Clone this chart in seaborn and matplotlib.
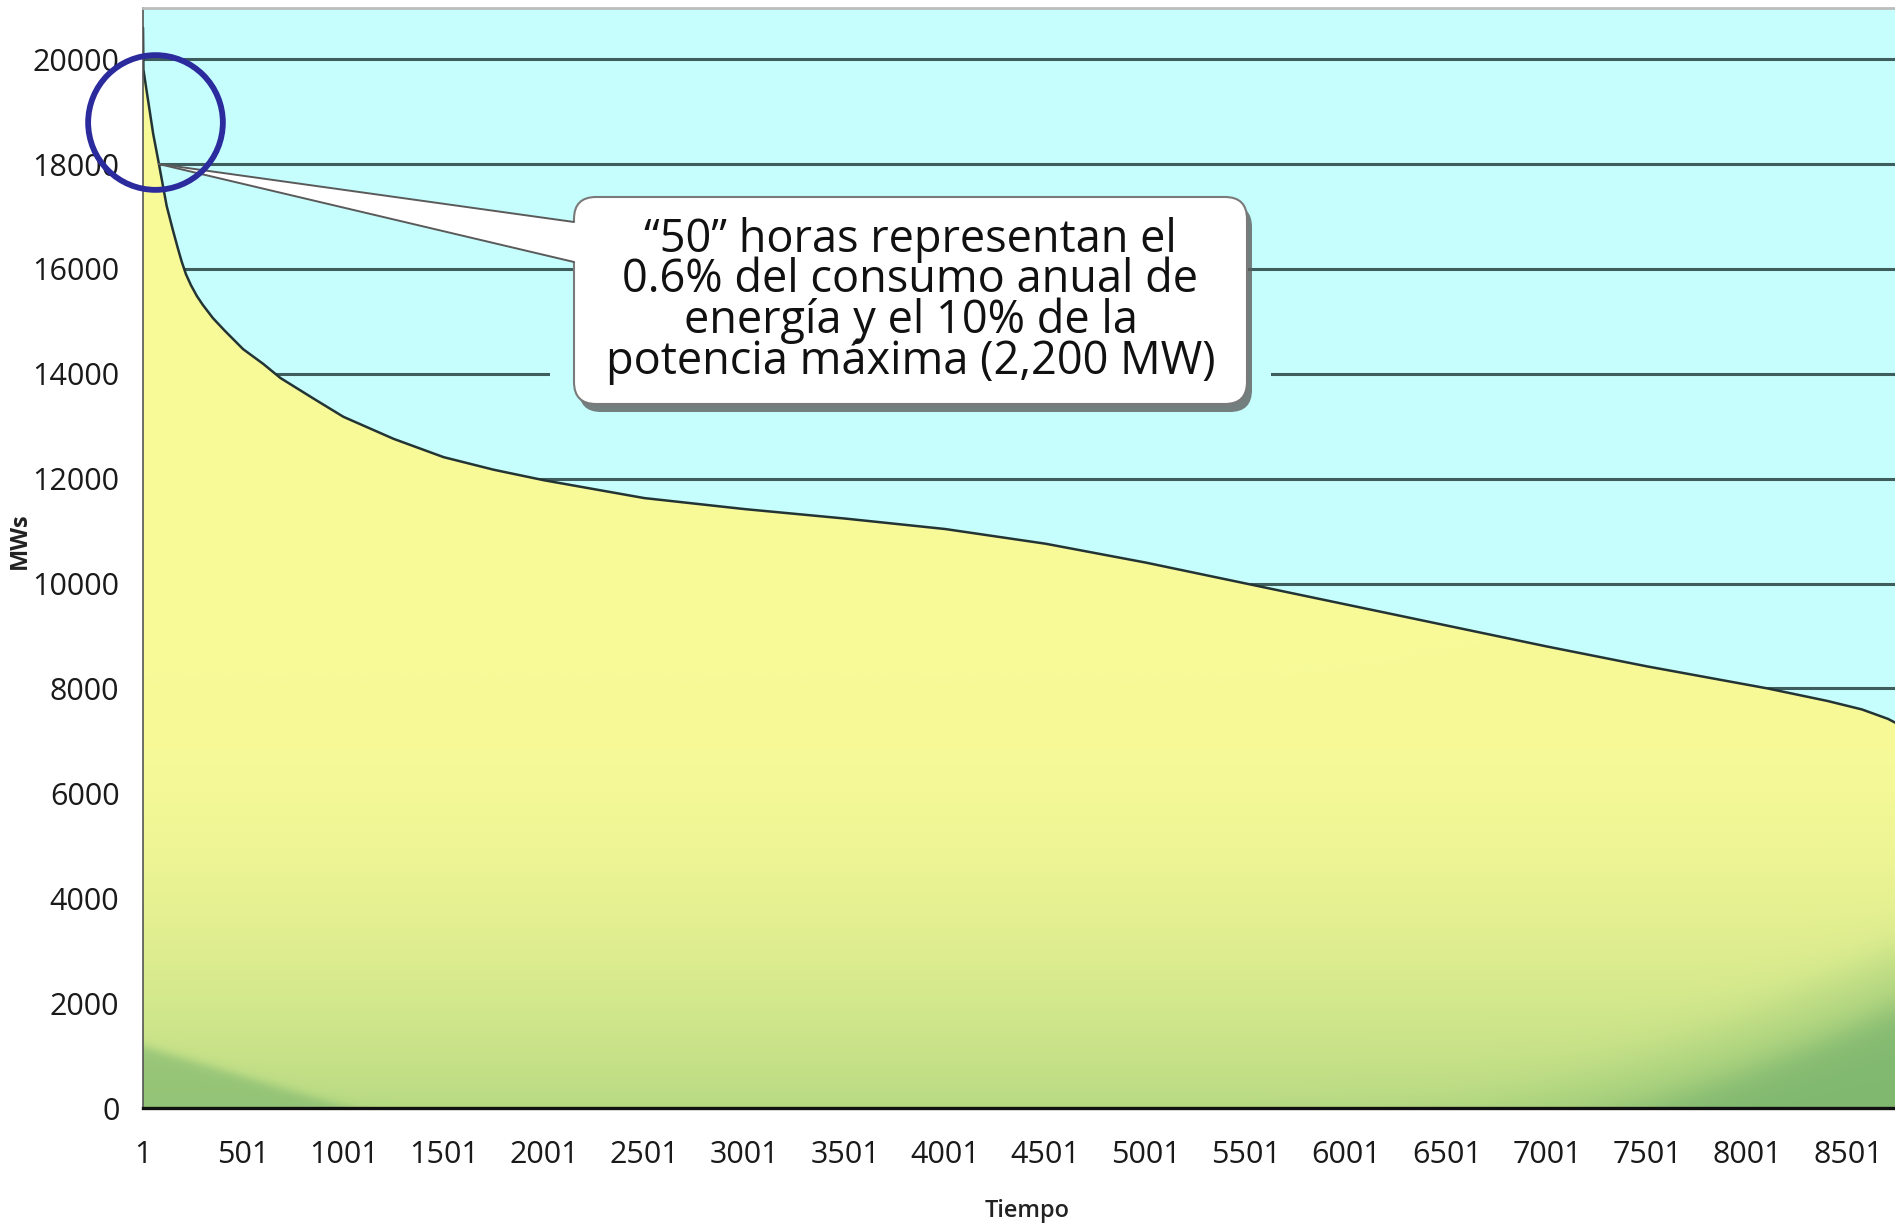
import numpy as np
import matplotlib
matplotlib.use("Agg")
import matplotlib.pyplot as plt
import matplotlib.transforms as mtransforms
from matplotlib.patches import FancyBboxPatch, Polygon, Rectangle
import seaborn as sns

# load duration curve (hour rank vs. demand in MW)
hours = [1, 3, 52, 77, 119, 150, 175, 193, 215, 240, 270, 300, 350, 409, 500,
         600, 686, 850, 1000, 1250, 1500, 1750, 2000, 2500, 3000, 3500, 4000,
         4500, 5000, 5500, 6000, 6500, 7000, 7500, 8100, 8400, 8570, 8700, 8760]
mw = [20600, 19800, 18570, 18070, 17200, 16740, 16390, 16150, 15900, 15690,
      15480, 15310, 15060, 14820, 14470, 14190, 13920, 13530, 13180, 12760,
      12410, 12170, 11970, 11630, 11420, 11240, 11040, 10760, 10400, 10000,
      9600, 9200, 8800, 8420, 8000, 7760, 7600, 7420, 7300]

x_ticks = [1, 501, 1001, 1501, 2001, 2501, 3001, 3501, 4001, 4501, 5001,
           5501, 6001, 6501, 7001, 7501, 8001, 8501]
y_ticks = [0, 2000, 4000, 6000, 8000, 10000, 12000, 14000, 16000, 18000, 20000]

# highlighted peak hours and the point the callout refers to
circle_hour, circle_mw = [61], [18800]
tip_hour, tip_mw = 80, 18000

callout = ("\u201c50\u201d horas representan el\n"
           "0.6% del consumo anual de\n"
           "energ\u00eda y el 10% de la\n"
           "potencia m\u00e1xima (2,200 MW)").replace("\u00ea", "\u00ed")

W, H = 1895, 1226
SKY = "#c6fdfd"
GRID = "#3f5d5d"

sns.set_theme(style="white")
plt.rcParams["font.family"] = ["Open Sans", "DejaVu Sans"]

fig = plt.figure(figsize=(W / 100, H / 100), dpi=100)
ax = fig.add_axes([143 / W, 118 / H, (W - 143) / W, 1100 / H])
ax.set_facecolor(SKY)
ax.set_xlim(1, 8735)
ax.set_ylim(0, 20975)

ax.set_axisbelow(True)
ax.yaxis.grid(True, color=GRID, lw=2.2)
ax.xaxis.grid(False)

# area under the curve, filled with a soft yellow-green gradient
area = ax.fill_between(hours, mw, 0, facecolor="none", edgecolor="none")
ny, nx = 500, 800
u = np.linspace(0, 1, nx)[None, :]
v = np.linspace(0, 1, ny)[:, None]
val = v * 20975
yellow = np.array([248, 250, 152]) / 255
green = np.array([186, 219, 132]) / 255
mid = np.array([160, 205, 122]) / 255
dark = np.array([122, 180, 110]) / 255
t = np.clip(1 - val / 7500, 0, 1) ** 1.7
img = yellow + (green - yellow) * t[..., None]
img = np.broadcast_to(img, (ny, nx, 3)).copy()


def sig(z):
    return 1 / (1 + np.exp(-z))


# bottom-left darker wedge
s = v / 0.055 + u / 0.115
w_bl = sig((1 - s) / 0.05) * 0.6
img = img + (dark - img) * w_bl[..., None]
# bottom-right swooshes
uu = np.clip((u - 0.62) / 0.38, 0, 1)
v1 = 0.17 * uu ** 1.7 - 0.03
w1 = sig((v1 - v) / 0.012) * 0.55
img = img + (mid - img) * w1[..., None]
uu2 = np.clip((u - 0.77) / 0.23, 0, 1)
v2 = 0.12 * uu2 ** 1.4 - 0.03
w2 = sig((v2 - v) / 0.010) * 0.85
img = img + (dark - img) * w2[..., None]

im = ax.imshow(img, extent=[0, 1, 0, 1], transform=ax.transAxes,
               origin="lower", aspect="auto", interpolation="bilinear", zorder=1)
im.set_clip_path(area.get_paths()[0], transform=ax.transData)

sns.lineplot(x=hours, y=mw, ax=ax, color="#243434", lw=1.8, zorder=2)

# spines
ax.spines["top"].set_color("#bdbdbd")
ax.spines["top"].set_linewidth(2)
ax.spines["right"].set_visible(False)
ax.spines["left"].set_color("#555555")
ax.spines["left"].set_linewidth(1.2)
ax.spines["bottom"].set_color("#111111")
ax.spines["bottom"].set_linewidth(2.4)
for sp in ax.spines.values():
    sp.set_zorder(3)

ax.set_xticks(x_ticks)
ax.set_xticklabels([str(h) for h in x_ticks])
ax.set_yticks(y_ticks)
ax.set_yticklabels([str(y) for y in y_ticks])
ax.tick_params(axis="both", length=0, labelsize=22, colors="#1a1a1a")
ax.tick_params(axis="y", pad=17)
ax.tick_params(axis="x", pad=23)

ax.set_xlabel("Tiempo", fontsize=17, fontweight="semibold", color="#222222", va="center")
ax.xaxis.set_label_coords((1027 - 143) / (W - 143), -103 / 1100)
ax.set_ylabel("MWs", fontsize=17, fontweight="bold", color="#222222", va="center")
ax.yaxis.set_label_coords((20 - 143) / (W - 143), (1108 - 541) / 1100)

# callout box (pixel coordinates, origin top-left of the picture)
ident = mtransforms.IdentityTransform()
bx0, bx1, by0, by1 = 574, 1247, 197, 404

gap = Rectangle((550, H - 415), 1271 - 550, 85, transform=ident,
                facecolor=SKY, edgecolor="none", zorder=0.8, clip_on=False)
ax.add_patch(gap)

shadow = FancyBboxPatch((bx0 + 5, H - by1 - 8), bx1 - bx0, by1 - by0,
                        boxstyle="round,pad=0,rounding_size=22", transform=ident,
                        facecolor="#5e5e5e", edgecolor="none", alpha=0.8,
                        zorder=4, clip_on=False)
ax.add_patch(shadow)
box = FancyBboxPatch((bx0, H - by1), bx1 - bx0, by1 - by0,
                     boxstyle="round,pad=0,rounding_size=22", transform=ident,
                     facecolor="white", edgecolor="#7a7a7a", lw=1.5,
                     zorder=5, clip_on=False)
ax.add_patch(box)

tx, ty = ax.transData.transform((tip_hour, tip_mw))
wedge = Polygon([(tx, ty), (bx0 + 1, H - 222), (bx0 + 12, H - 222),
                 (bx0 + 12, H - 262), (bx0 + 1, H - 262)],
                closed=True, transform=ident, facecolor="white",
                edgecolor="none", zorder=5.5, clip_on=False)
ax.add_patch(wedge)
for yb in (222, 262):
    ax.plot([tx, bx0], [ty, H - yb], transform=ident, color="#5a5a5a",
            lw=1.4, zorder=5.6, clip_on=False)

ax.text((bx0 + bx1) / 2, H - 301, callout, transform=ident, ha="center",
        va="center", fontsize=32.5, linespacing=0.84, color="#111111", zorder=6)

ax.plot(circle_hour, circle_mw, marker="o", ms=97, mfc="none", mec="#2b2b9e",
        mew=4.2, ls="none", zorder=7, clip_on=False)

fig.savefig("out.png", dpi=100, facecolor="white")
